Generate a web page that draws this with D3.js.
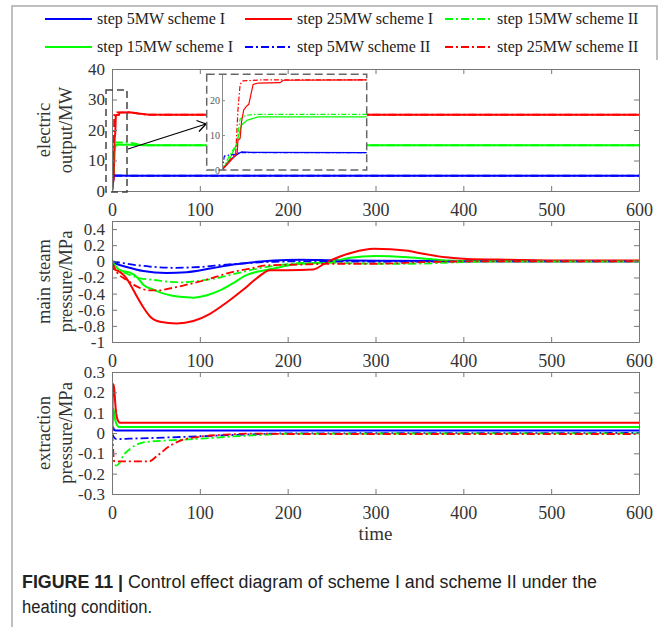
<!DOCTYPE html>
<html><head><meta charset="utf-8">
<script src="https://cdn.jsdelivr.net/npm/d3@7/dist/d3.min.js"></script>
<style>body{margin:0;background:#fff}</style>
</head><body>
<svg id="c" width="665" height="627"></svg>
<script>
// ---------- data ----------
const timeTicks = [0,100,200,300,400,500,600];
const elecTicks = [0,10,20,30,40];
const steamTicks = [-1,-0.8,-0.6,-0.4,-0.2,0,0.2,0.4];
const steamTickLabels = ["-1","-0.8","-0.6","-0.4","-0.2","0","0.2","0.4"];
const extrTicks = [-0.3,-0.2,-0.1,0,0.1,0.2,0.3];
const extrTickLabels = ["-0.3","-0.2","-0.1","0","0.1","0.2","0.3"];
const insetTicks = [0,10,20];

const seriesKeys = ["5I","15I","25I","5II","15II","25II"];
const legendLabels = ["step 5MW scheme I","step 15MW scheme I","step 25MW scheme I","step 5MW scheme II","step 15MW scheme II","step 25MW scheme II"];

// electric output / MW  [time, value]
const elec5I  = [[0,0],[0.9,2.5],[2,4.3],[2.7,5.2],[4,5.05],[20,5.0],[600,5.0]];
const elec15I = [[0,0],[1,3],[2,7.1],[2.3,10],[2.7,12.9],[3.5,14.3],[5,15.2],[20,15.2],[40,15.0],[600,15.0]];
const elec25I = [[0,0],[1,2.2],[2.1,4.8],[2.2,8.5],[2.5,9.0],[2.7,13.8],[3.0,17.2],[3.4,18.3],[3.7,18.8],[4.3,24.5],[5,24.9],[8,25.0],[8.5,25.7],[20,25.8],[30,25.4],[40,25.1],[60,25.0],[600,25.0]];
const elec5II  = [[0,0],[0.33,4.0],[2,4.6],[2.5,5.0],[20,5.0],[600,5.0]];
const elec15II = [[0,0],[1,4],[2,7.4],[2.5,14.6],[3.2,15.6],[4.3,15.9],[20,15.9],[35,15.0],[600,15.0]];
const elec25II = [[0,0],[1.9,4.9],[2.2,17],[2.5,24.5],[2.9,25.5],[5.5,25.8],[20,25.8],[40,25.0],[600,25.0]];

// main steam pressure / MPa
const steam5I  = [[0,0],[5,-0.03],[16.7,-0.07],[35.6,-0.12],[62,-0.145],[85,-0.135],[111.6,-0.09],[138,-0.04],[161,-0.01],[184,0.01],[214,0.02],[252,0.012],[300,0.008],[400,0.003],[600,0]];
const steam15I = [[0,0],[2,-0.03],[9,-0.11],[20.5,-0.14],[28,-0.19],[35.6,-0.29],[47,-0.35],[62,-0.41],[77,-0.44],[92.6,-0.45],[108,-0.42],[123,-0.36],[138,-0.27],[153,-0.17],[165,-0.13],[184,-0.09],[206,-0.04],[233,-0.02],[252,0],[271,0.045],[300,0.065],[337,0.05],[380,0.01],[420,0],[600,0]];
const steam25I = [[0,0],[1.5,-0.09],[9,-0.13],[15,-0.19],[20.5,-0.28],[28,-0.43],[35.6,-0.57],[43,-0.68],[54.7,-0.75],[73.7,-0.77],[92.6,-0.74],[111.6,-0.65],[130.6,-0.51],[149.6,-0.35],[164.8,-0.21],[180,-0.11],[199,-0.11],[229,-0.10],[244.5,-0.01],[259.7,0.06],[274,0.11],[298,0.155],[317,0.15],[337,0.13],[356,0.09],[380,0.05],[404,0.03],[452,0.02],[520,0.01],[600,0.01]];
const steam5II  = [[0,0],[16.7,-0.03],[43,-0.065],[70,-0.08],[100,-0.07],[130,-0.04],[157,-0.02],[184,-0.005],[220,0],[300,-0.005],[400,-0.002],[600,0]];
const steam15II = [[0,0],[3,-0.05],[9,-0.11],[20.5,-0.17],[32,-0.21],[47,-0.23],[62,-0.25],[81,-0.26],[100,-0.24],[119,-0.21],[138,-0.16],[157,-0.11],[176,-0.07],[195,-0.04],[214,-0.02],[252,-0.02],[300,-0.03],[340,-0.03],[400,-0.01],[450,0],[600,0]];
const steam25II = [[0,-0.01],[5.3,-0.13],[16.7,-0.23],[28,-0.31],[43,-0.36],[55,-0.36],[62,-0.345],[81,-0.30],[100,-0.25],[119,-0.19],[138,-0.13],[157,-0.09],[176,-0.05],[214,-0.04],[252,-0.03],[300,-0.03],[356,-0.01],[420,0],[600,0]];

// extraction pressure / MPa
const extr5I  = [[0,0],[1,0.03],[2,0.02],[4,0.012],[600,0.012]];
const extr15I = [[0,0],[0.8,0.05],[1.5,0.12],[3,0.08],[5,0.045],[8,0.03],[600,0.03]];
const extr25I = [[0,0],[0.5,0.12],[1.5,0.24],[2.5,0.22],[4,0.13],[6,0.07],[9,0.05],[600,0.05]];
const extr5II  = [[0,0],[2,-0.02],[5,-0.03],[20,-0.028],[50,-0.024],[100,-0.016],[150,-0.008],[200,-0.002],[600,0]];
const extr15II = [[0,0],[1,-0.1],[2.5,-0.15],[5,-0.16],[8,-0.15],[13,-0.11],[20,-0.08],[28,-0.057],[43,-0.042],[62,-0.037],[100,-0.028],[138,-0.017],[176,-0.008],[200,-0.003],[600,-0.002]];
const extr25II = [[0,0],[1,-0.05],[2,-0.13],[3,-0.14],[42,-0.14],[52,-0.11],[67,-0.06],[81,-0.033],[100,-0.018],[129,-0.008],[160,-0.003],[200,-0.005],[600,-0.005]];

// ---------- drawing ----------
const svg = d3.select("#c");
const SERIF = "'Liberation Serif','Times New Roman',serif";
const colorOf = {"5I":"#0000ff","15I":"#00ff00","25I":"#ff0000","5II":"#0000ff","15II":"#00ff00","25II":"#ff0000"};
const dashOf = k => k.endsWith("II") ? "8,3,2,3" : null;

// frame
svg.append("path").attr("d","M12,627 L12,6 L657,6 L657,60")
  .attr("fill","none").attr("stroke","#aaa").attr("stroke-width",1.5);

// legend
const legendPos = {"5I":[0,0],"25I":[1,0],"15II":[2,0],"15I":[0,1],"5II":[1,1],"25II":[2,1]};
const legColX = [45,245,445], legRowY = [19,47];
seriesKeys.forEach((k,i)=>{
  const [c,r] = legendPos[k];
  const x0 = legColX[c], yy = legRowY[r];
  svg.append("line").attr("x1",x0).attr("x2",x0+47).attr("y1",yy).attr("y2",yy)
    .attr("stroke",colorOf[k]).attr("stroke-width",2).attr("stroke-dasharray",dashOf(k));
  svg.append("text").attr("x",x0+52).attr("y",yy).attr("dy","0.33em")
    .attr("font-family",SERIF).attr("font-size",16).attr("fill","#222").text(legendLabels[i]);
});

const x = d3.scaleLinear().domain([0,600]).range([112,639]);

const panels = [
  {y0:69,y1:191,dom:[0,40],ticks:elecTicks,labels:elecTicks.map(String),ylab:["electric","output/MW"],
   data:{"5I":elec5I,"15I":elec15I,"25I":elec25I,"5II":elec5II,"15II":elec15II,"25II":elec25II},curve:d3.curveLinear},
  {y0:221,y1:342,dom:[-1,0.5],ticks:steamTicks,labels:steamTickLabels,ylab:["main steam","pressure/MPa"],
   data:{"5I":steam5I,"15I":steam15I,"25I":steam25I,"5II":steam5II,"15II":steam15II,"25II":steam25II},curve:d3.curveMonotoneX},
  {y0:372,y1:494,dom:[-0.3,0.3],ticks:extrTicks,labels:extrTickLabels,ylab:["extraction","pressure/MPa"],
   data:{"5I":extr5I,"15I":extr15I,"25I":extr25I,"5II":extr5II,"15II":extr15II,"25II":extr25II},curve:d3.curveMonotoneX}
];

function styleAxis(g){
  g.select(".domain").attr("stroke","#777");
  g.selectAll(".tick line").attr("stroke","#777");
  g.selectAll(".tick text").attr("fill","#333").attr("font-family",SERIF).attr("font-size",17);
}

panels.forEach((p,pi)=>{
  const y = d3.scaleLinear().domain(p.dom).range([p.y1,p.y0]);
  p.y = y;
  const id = "clip"+pi;
  svg.append("clipPath").attr("id",id).append("rect")
    .attr("x",112).attr("y",p.y0).attr("width",527).attr("height",p.y1-p.y0);
  const line = d3.line().x(d=>x(d[0])).y(d=>y(d[1])).curve(p.curve);
  const g = svg.append("g").attr("clip-path",`url(#${id})`);
  seriesKeys.forEach(k=>{
    g.append("path").attr("d",line(p.data[k])).attr("fill","none")
      .attr("stroke",colorOf[k]).attr("stroke-width",k.endsWith("II")?1.8:2)
      .attr("stroke-dasharray",dashOf(k));
  });
  // axes
  const gb = svg.append("g").attr("transform",`translate(0,${p.y1})`)
    .call(d3.axisBottom(x).tickValues(timeTicks).tickSize(-5).tickSizeOuter(0).tickPadding(12));
  styleAxis(gb);
  gb.selectAll(".tick text").attr("font-size",18);
  const gt = svg.append("g").attr("transform",`translate(0,${p.y0})`)
    .call(d3.axisTop(x).tickValues(timeTicks).tickSize(-5).tickSizeOuter(0).tickFormat(""));
  styleAxis(gt);
  const gl = svg.append("g").attr("transform","translate(112,0)")
    .call(d3.axisLeft(y).tickValues(p.ticks).tickSize(-5).tickSizeOuter(0).tickPadding(7)
      .tickFormat((d,i)=>p.labels[i]));
  styleAxis(gl);
  const gr = svg.append("g").attr("transform","translate(639,0)")
    .call(d3.axisRight(y).tickValues(p.ticks).tickSize(-5).tickSizeOuter(0).tickFormat(""));
  styleAxis(gr);
  // y label
  const yc = (p.y0+p.y1)/2;
  [44,66].forEach((lx,li)=>{
    svg.append("text").attr("transform",`translate(${lx},${yc}) rotate(-90)`)
      .attr("text-anchor","middle").attr("dominant-baseline","central")
      .attr("font-family",SERIF).attr("font-size",18.5).attr("fill","#333").text(p.ylab[li]);
  });
});

// x label
svg.append("text").attr("x",375.5).attr("y",540).attr("text-anchor","middle")
  .attr("font-family",SERIF).attr("font-size",19).attr("fill","#333").text("time");

// zoom marker box in top panel + arrow
svg.append("rect").attr("x",106).attr("y",90).attr("width",21).attr("height",102)
  .attr("fill","none").attr("stroke","#444").attr("stroke-width",1.5).attr("stroke-dasharray","7,4");
svg.append("line").attr("x1",128).attr("y1",149).attr("x2",206).attr("y2",124)
  .attr("stroke","#000").attr("stroke-width",1.3);
svg.append("path").attr("d","M196.5,120.5 L206,124 L199,131.5").attr("fill","none")
  .attr("stroke","#000").attr("stroke-width",1.3);

// inset
const ix = d3.scaleLinear().domain([0,20]).range([222,366.7]);
const iy = d3.scaleLinear().domain([0,27.4]).range([170,74.3]);
svg.append("rect").attr("x",206.7).attr("y",74.3).attr("width",160).attr("height",95.7)
  .attr("fill","#fff").attr("stroke","#666").attr("stroke-width",1.5).attr("stroke-dasharray","8,4");
svg.append("clipPath").attr("id","clipI").append("rect")
  .attr("x",222).attr("y",74.3).attr("width",144.7).attr("height",95.7);
const iline = d3.line().x(d=>ix(d[0])).y(d=>iy(d[1]));
const gi = svg.append("g").attr("clip-path","url(#clipI)");
seriesKeys.forEach(k=>{
  gi.append("path").attr("d",iline(panels[0].data[k])).attr("fill","none")
    .attr("stroke",colorOf[k]).attr("stroke-width",1.2).attr("stroke-dasharray",k.endsWith("II")?"5,2,1.5,2":null);
});
const gia = svg.append("g").attr("transform","translate(222,0)")
  .call(d3.axisLeft(iy).tickValues(insetTicks).tickSize(-3).tickSizeOuter(0).tickPadding(2));
gia.select(".domain").attr("stroke","#888");
gia.selectAll(".tick line").attr("stroke","#888");
gia.selectAll(".tick text").attr("fill","#555").attr("font-family",SERIF).attr("font-size",10);

// caption
const cap = svg.append("text").attr("x",22).attr("y",588)
  .attr("font-family","'Liberation Sans Narrow','Liberation Sans',Arial,sans-serif").attr("font-size",18).attr("fill","#222")
  .attr("textLength",575).attr("lengthAdjust","spacingAndGlyphs");
cap.append("tspan").attr("font-weight","bold").text("FIGURE 11 | ");
cap.append("tspan").text("Control effect diagram of scheme I and scheme II under the");
svg.append("text").attr("x",22).attr("y",613)
  .attr("font-family","'Liberation Sans Narrow','Liberation Sans',Arial,sans-serif").attr("font-size",18).attr("fill","#222")
  .attr("textLength",130).attr("lengthAdjust","spacingAndGlyphs")
  .text("heating condition.");
</script>
</body></html>
